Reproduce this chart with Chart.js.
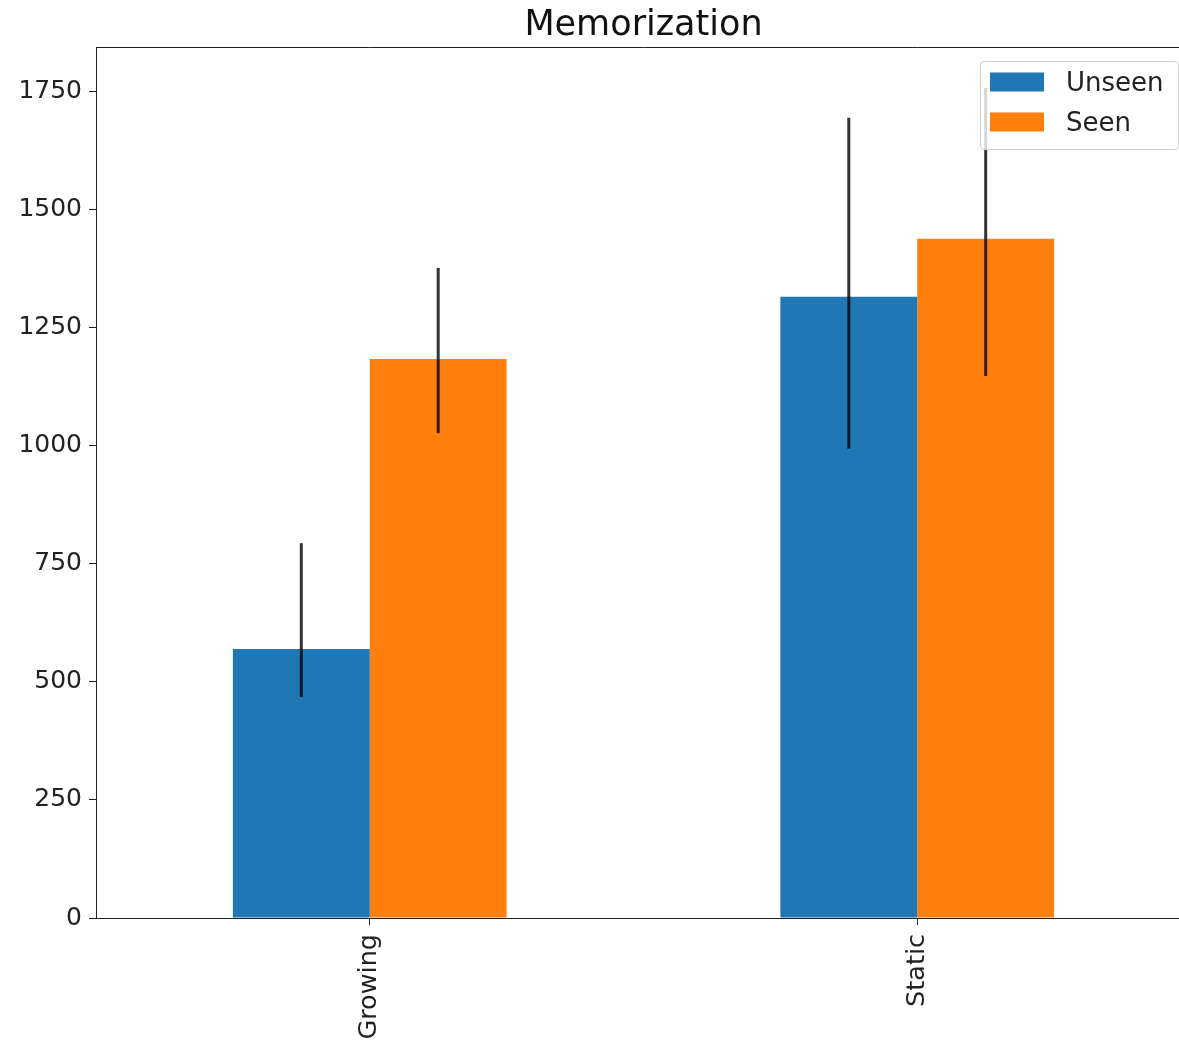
<!DOCTYPE html>
<html>
<head>
<meta charset="utf-8">
<script src="https://cdn.jsdelivr.net/npm/chart.js@4"></script>
<style>
    html, body { margin: 0; background: #fff; overflow: hidden; }
    #wrap { width: 1179px; height: 1045px; overflow: hidden; }
    canvas { display: block; }
</style>
</head>
<body>
<!-- the original figure is cropped on the right, so the canvas runs past the visible frame -->
<div id="wrap"><canvas id="memChart" width="1191" height="1045"></canvas></div>
<script>
const categories = ['Growing', 'Static'];
const unseen = [570, 1316];
const seen = [1184, 1439];
const unseenErrLow = [468, 994];
const unseenErrHigh = [794, 1695];
const seenErrLow = [1027, 1148];
const seenErrHigh = [1377, 1758];
const yMax = 1845;
const yStep = 250;

const FONT = "'DejaVu Sans', sans-serif";
const VISIBLE_W = 1179;

// error bars drawn from the bar elements and the y scale
const errorBars = {
    id: 'errorBars',
    afterDatasetsDraw(chart) {
        const ctx = chart.ctx;
        const y = chart.scales.y;
        const ranges = [[unseenErrLow, unseenErrHigh], [seenErrLow, seenErrHigh]];
        ctx.save();
        ctx.strokeStyle = 'rgba(0,0,0,0.8)';
        ctx.lineWidth = 3;
        ranges.forEach((r, di) => {
            const meta = chart.getDatasetMeta(di);
            meta.data.forEach((bar, i) => {
                ctx.beginPath();
                ctx.moveTo(bar.x, y.getPixelForValue(r[0][i]));
                ctx.lineTo(bar.x, y.getPixelForValue(r[1][i]));
                ctx.stroke();
            });
        });
        // top spine
        const a = chart.chartArea;
        ctx.strokeStyle = '#222';
        ctx.lineWidth = 1;
        ctx.beginPath();
        ctx.moveTo(a.left, Math.round(a.top) + 0.5);
        ctx.lineTo(a.right, Math.round(a.top) + 0.5);
        ctx.stroke();
        ctx.restore();
    }
};

// matplotlib-like legend box in the upper right
const boxLegend = {
    id: 'boxLegend',
    afterDraw(chart) {
        const ctx = chart.ctx;
        const a = chart.chartArea;
        const w = 198, h = 88;
        const x = VISIBLE_W - 1 - w, y = a.top + 14;
        ctx.save();
        ctx.fillStyle = 'rgba(255,255,255,0.8)';
        ctx.strokeStyle = '#d0d0d0';
        ctx.lineWidth = 1;
        ctx.beginPath();
        ctx.roundRect(x + 0.5, y + 0.5, w, h, 4);
        ctx.fill();
        ctx.stroke();
        ctx.font = '26px ' + FONT;
        ctx.textBaseline = 'middle';
        chart.data.datasets.forEach((ds, i) => {
            const cy = y + 21 + i * 40;
            ctx.fillStyle = ds.backgroundColor;
            ctx.fillRect(x + 10, cy - 9.5, 54, 19);
            ctx.fillStyle = '#222';
            ctx.fillText(ds.label, x + 86, cy + 2);
        });
        ctx.restore();
    }
};

new Chart(document.getElementById('memChart'), {
    type: 'bar',
    data: {
        labels: categories,
        datasets: [
            { label: 'Unseen', data: unseen, backgroundColor: '#1f77b4' },
            { label: 'Seen', data: seen, backgroundColor: '#ff7f0e' }
        ]
    },
    options: {
        responsive: false,
        animation: false,
        layout: { padding: 0 },
        datasets: {
            bar: { categoryPercentage: 0.5, barPercentage: 1.0 }
        },
        plugins: {
            legend: { display: false },
            tooltip: { enabled: false },
            title: {
                display: true,
                text: 'Memorization',
                fullSize: false,
                color: '#111',
                font: { family: FONT, size: 35, weight: 'normal', lineHeight: 1.2 },
                padding: { top: 5, bottom: 0 }
            }
        },
        scales: {
            x: {
                grid: { offset: false, drawOnChartArea: false, drawTicks: true, tickLength: 7, color: '#222' },
                border: { display: true, color: '#222' },
                ticks: {
                    minRotation: 90,
                    maxRotation: 90,
                    padding: 9,
                    color: '#222',
                    font: { family: FONT, size: 25.5 }
                },
                afterFit(scale) { scale.height = 127; }
            },
            y: {
                min: 0,
                max: yMax,
                grid: { drawOnChartArea: false, drawTicks: true, tickLength: 7, color: '#222' },
                border: { display: true, color: '#222' },
                ticks: {
                    stepSize: yStep,
                    includeBounds: false,
                    padding: 7,
                    color: '#222',
                    font: { family: FONT, size: 25 },
                    callback: (v) => String(v)
                },
                afterFit(scale) { scale.width = 96; }
            }
        }
    },
    plugins: [errorBars, boxLegend]
});
</script>
</body>
</html>
